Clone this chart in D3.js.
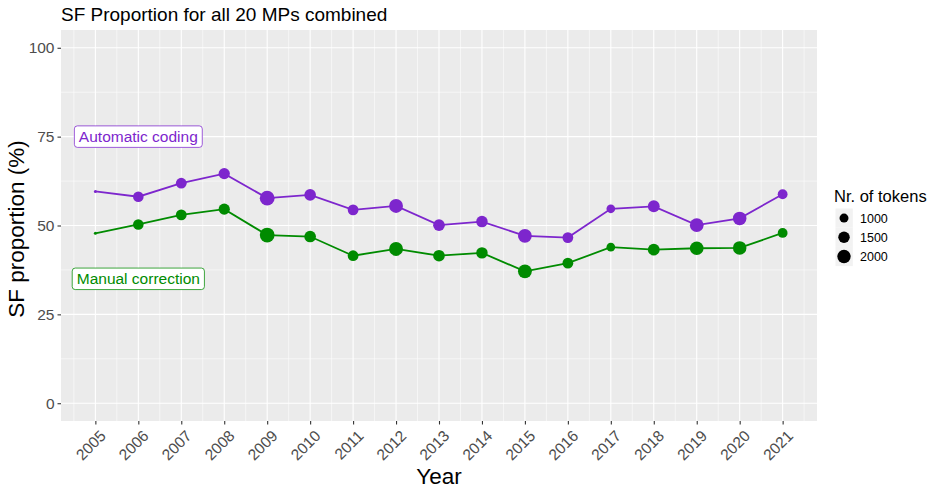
<!DOCTYPE html>
<html>
<head>
<meta charset="utf-8">
<script src="https://cdn.jsdelivr.net/npm/d3@7"></script>
<style>
  html, body { margin: 0; padding: 0; background: #fff; }
  svg { display: block; font-family: "Liberation Sans", Arial, sans-serif; }
</style>
</head>
<body>
<svg id="chart" width="938" height="493"></svg>
<script>
// ---- data ----
const years = [2005,2006,2007,2008,2009,2010,2011,2012,2013,2014,2015,2016,2017,2018,2019,2020,2021];
const automatic = [59.6,58.1,61.9,64.6,57.7,58.6,54.4,55.5,50.1,51.1,47.1,46.6,54.7,55.4,50.1,52.0,58.8];
const manual    = [47.8,50.3,53.0,54.6,47.3,46.9,41.5,43.4,41.5,42.3,37.1,39.4,43.9,43.2,43.6,43.7,47.9];
const tokens    = [500,1300,1350,1450,2450,1550,1350,2150,1550,1500,2150,1350,950,1600,2100,2050,1150];
const yTicks = [0,25,50,75,100];
const legendBreaks = [1000,1500,2000];
const seriesNames = ["Automatic coding","Manual correction"];
const labelPos = [{year:2006, value:75},{year:2006, value:35}];
const colors = ["#7D26CD","#008B00"];

const svg = d3.select("#chart");
const m = {left:61, right:817, top:30, bottom:421};

const x = d3.scaleLinear().domain([2004.2, 2021.8]).range([m.left, m.right]);
const y = d3.scaleLinear().domain([-5, 105]).range([m.bottom, m.top]);
const tmin = d3.min(tokens), tmax = d3.max(tokens);
const norm = d3.scaleLinear().domain([tmin, tmax]).range([0,1]);
const rScale = v => 1.5 + 5.9*Math.sqrt(Math.max(0, norm(v)));

// panel
svg.append("rect").attr("x", m.left).attr("y", m.top)
  .attr("width", m.right-m.left).attr("height", m.bottom-m.top).attr("fill", "#EBEBEB");

// minor grid
const xMinor = years.map(d => d-0.5).concat([years[years.length-1]+0.5]);
const yMinor = yTicks.slice(0,-1).map(d => d+12.5);
svg.append("g").selectAll("line").data(xMinor).join("line")
  .attr("x1", d=>x(d)).attr("x2", d=>x(d)).attr("y1", m.top).attr("y2", m.bottom)
  .attr("stroke","#fff").attr("stroke-width",0.55);
svg.append("g").selectAll("line").data(yMinor).join("line")
  .attr("y1", d=>y(d)).attr("y2", d=>y(d)).attr("x1", m.left).attr("x2", m.right)
  .attr("stroke","#fff").attr("stroke-width",0.55);
// major grid
svg.append("g").selectAll("line").data(years).join("line")
  .attr("x1", d=>x(d)).attr("x2", d=>x(d)).attr("y1", m.top).attr("y2", m.bottom)
  .attr("stroke","#fff").attr("stroke-width",1.1);
svg.append("g").selectAll("line").data(yTicks).join("line")
  .attr("y1", d=>y(d)).attr("y2", d=>y(d)).attr("x1", m.left).attr("x2", m.right)
  .attr("stroke","#fff").attr("stroke-width",1.1);

// axes
const yAxis = svg.append("g").attr("transform", `translate(${m.left},0)`)
  .call(d3.axisLeft(y).tickValues(yTicks).tickSize(3.5).tickPadding(3));
yAxis.select(".domain").remove();
yAxis.selectAll("line").attr("stroke","#333333").attr("stroke-width",1.1);
yAxis.selectAll("text").attr("fill","#4D4D4D").style("font-size","15.5px")
  .style("font-family","Liberation Sans, Arial, sans-serif");

const xAxis = svg.append("g").attr("transform", `translate(0,${m.bottom})`)
  .call(d3.axisBottom(x).tickValues(years).tickFormat(d3.format("d")).tickSize(3.5));
xAxis.select(".domain").remove();
xAxis.selectAll("line").attr("stroke","#333333").attr("stroke-width",1.1);
xAxis.selectAll("text").attr("fill","#4D4D4D").style("font-size","15.5px")
  .style("font-family","Liberation Sans, Arial, sans-serif")
  .attr("text-anchor","end")
  .attr("transform","translate(3,8) rotate(-45)")
  .attr("y",0).attr("x",0).attr("dy","0.72em");

// series
const series = [automatic, manual];
const line = d3.line().x(d=>x(d.year)).y(d=>y(d.value));
series.forEach((vals, i) => {
  const pts = years.map((yr, j) => ({year:yr, value:vals[j], tokens:tokens[j]}));
  svg.append("path").datum(pts).attr("d", line).attr("fill","none")
    .attr("stroke", colors[i]).attr("stroke-width",1.8);
  svg.append("g").selectAll("circle").data(pts).join("circle")
    .attr("cx", d=>x(d.year)).attr("cy", d=>y(d.value)).attr("r", d=>rScale(d.tokens))
    .attr("fill", colors[i]);
});

// labels
labelPos.forEach((p, i) => {
  const g = svg.append("g").attr("transform", `translate(${x(p.year)},${y(p.value)})`);
  const rect = g.append("rect");
  const t = g.append("text").text(seriesNames[i]).attr("text-anchor","middle")
    .attr("dy","0.36em").attr("fill", colors[i]).style("font-size","15.5px");
  const w = t.node().getComputedTextLength();
  const padX = 4.5, h = 21.5;
  rect.attr("x", -w/2 - padX).attr("y", -h/2).attr("width", w + 2*padX).attr("height", h)
    .attr("rx", 3).attr("fill","#fff").attr("stroke", colors[i]).attr("stroke-opacity",0.75).attr("stroke-width",1);
});

// titles
svg.append("text").attr("x", m.left).attr("y", 21).text("SF Proportion for all 20 MPs combined")
  .style("font-size","19px").attr("fill","#000");
svg.append("text").attr("x", (m.left+m.right)/2).attr("y", 484).attr("text-anchor","middle")
  .text("Year").style("font-size","22.5px").attr("fill","#000");
svg.append("text").attr("transform", `translate(24,${(m.top+m.bottom)/2 + 3.5}) rotate(-90)`)
  .attr("text-anchor","middle").text("SF proportion (%)").style("font-size","22.5px").attr("fill","#000");

// legend
const lg = svg.append("g").attr("transform","translate(834,0)");
lg.append("text").attr("x",0).attr("y",202).text("Nr. of tokens").style("font-size","16.5px").attr("fill","#000");
const keyH = 19.2, keyTop = 208.5;
legendBreaks.forEach((b, i) => {
  const cy = keyTop + keyH*i + keyH/2;
  lg.append("rect").attr("x",1.5).attr("y", keyTop + keyH*i).attr("width",17.3).attr("height",keyH)
    .attr("fill","#F2F2F2");
  lg.append("circle").attr("cx", 10).attr("cy", cy).attr("r", rScale(b)).attr("fill","#000");
  lg.append("text").attr("x", 26).attr("y", cy).attr("dy","0.36em").text(b)
    .style("font-size","12.5px").attr("fill","#000");
});
</script>
</body>
</html>
